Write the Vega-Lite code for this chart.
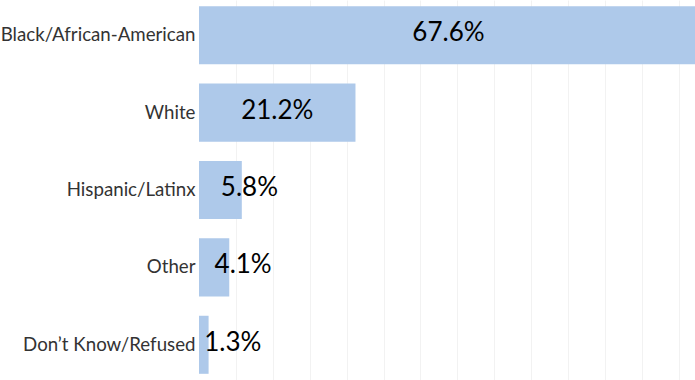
{
  "$schema": "https://vega.github.io/schema/vega-lite/v6.json",
  "autosize": {"type": "fit", "contains": "padding"},
  "width": 695,
  "height": 380,
  "padding": 0,
  "background": "white",
  "config": {"view": {"stroke": null}, "font": "Lato"},
  "data": {
    "values": [
      {"group": "Black/African-American", "pct": 67.6},
      {"group": "White", "pct": 21.2},
      {"group": "Hispanic/Latinx", "pct": 5.8},
      {"group": "Other", "pct": 4.1},
      {"group": "Don’t Know/Refused", "pct": 1.3}
    ]
  },
  "transform": [
    {"calculate": "datum.pct / 2", "as": "mid"},
    {"calculate": "format(datum.pct, '.1f') + '%'", "as": "lbl"}
  ],
  "encoding": {
    "y": {
      "field": "group",
      "type": "nominal",
      "sort": null,
      "title": null,
      "scale": {"paddingInner": 0.25, "paddingOuter": 0.08},
      "axis": {
        "ticks": false,
        "domain": false,
        "labelPadding": 4,
        "labelFont": "Lato",
        "labelFontSize": 18.7,
        "labelColor": "#333333",
        "labelLimit": 300
      }
    }
  },
  "layer": [
    {
      "mark": {"type": "bar", "color": "#aec9ea", "clip": true},
      "encoding": {
        "x": {
          "field": "pct",
          "type": "quantitative",
          "title": null,
          "scale": {"domain": [0, 67.2], "nice": false, "zero": true},
          "axis": {
            "labels": false,
            "ticks": false,
            "domain": false,
            "grid": true,
            "gridColor": "#f2f2f2",
            "gridWidth": 1,
            "values": [5, 10, 15, 20, 25, 30, 35, 40, 45, 50, 55, 60, 65]
          }
        }
      }
    },
    {
      "transform": [{"filter": "datum.pct >= 10"}],
      "mark": {"type": "text", "font": "Lato", "fontSize": 26, "color": "black", "align": "center", "baseline": "middle", "dy": -2},
      "encoding": {
        "x": {"field": "mid", "type": "quantitative"},
        "text": {"field": "lbl", "type": "nominal"}
      }
    },
    {
      "transform": [{"filter": "datum.pct < 10"}],
      "mark": {"type": "text", "font": "Lato", "fontSize": 26, "color": "black", "align": "center", "baseline": "middle", "dx": 29, "dy": -2},
      "encoding": {
        "x": {"field": "mid", "type": "quantitative"},
        "text": {"field": "lbl", "type": "nominal"}
      }
    }
  ]
}
